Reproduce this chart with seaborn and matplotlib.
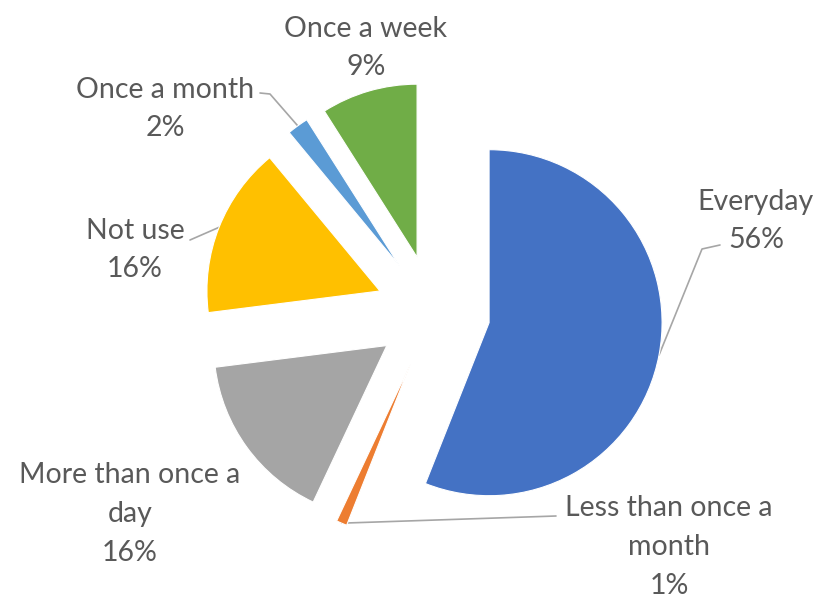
import numpy as np
import matplotlib
matplotlib.use("Agg")
import matplotlib.pyplot as plt
import seaborn as sns

# Survey shares (percent), in clockwise order from 12 o'clock
categories = ["Everyday", "Less than once a\nmonth", "More than once a\nday",
              "Not use", "Once a month", "Once a week"]
shares = [56, 1, 16, 16, 2, 9]
colors = ["#4472C4", "#ED7D31", "#A5A5A5", "#FFC000", "#5B9BD5", "#70AD47"]

sns.set_theme(style="white")
plt.rcParams["font.family"] = ["Lato", "DejaVu Sans"]

W, H = 818, 600
fig = plt.figure(figsize=(W / 100, H / 100), dpi=100)
ax = fig.add_axes([0, 0, 1, 1])

# pixel -> data helper: the pie has radius 1 and is centred at (CX, CY) pixels
SCALE = 173.0
CX, CY = 433, 312


def px(x, y):
    return ((x - CX) / SCALE, (CY - y) / SCALE)


wedges, _ = ax.pie(shares, colors=colors, startangle=90, counterclock=False,
                   explode=[0.33] * len(shares), radius=1,
                   wedgeprops=dict(linewidth=0.8, edgecolor="white"))
ax.set_xlim(-CX / SCALE, (W - CX) / SCALE)
ax.set_ylim(-(H - CY) / SCALE, CY / SCALE)
ax.axis("off")


def arc_mid(w):
    a = np.deg2rad((w.theta1 + w.theta2) / 2)
    return (w.center[0] + w.r * np.cos(a), w.center[1] + w.r * np.sin(a))


# label centres in pixels
label_pos = [(756, 221), (669, 547), (130, 514), (135, 250), (165, 109), (366, 48)]
for cat, val, (lx, ly) in zip(categories, shares, label_pos):
    x, y = px(lx, ly)
    ax.text(x, y, f"{cat}\n{val}%", ha="center", va="center",
            fontsize=20.5, color="#595959", linespacing=1.6)

# leader lines
leader = {
    0: [(720, 245), (702, 249)],
    1: [(556, 516)],
    3: [(190, 240)],
    4: [(260, 93), (270, 94)],
}
for i, pts in leader.items():
    xs = [px(*p)[0] for p in pts]
    ys = [px(*p)[1] for p in pts]
    mx, my = arc_mid(wedges[i])
    xs.append(mx)
    ys.append(my)
    ax.plot(xs, ys, color="#A6A6A6", lw=1.2, zorder=0)

fig.savefig("out.png", dpi=100)
